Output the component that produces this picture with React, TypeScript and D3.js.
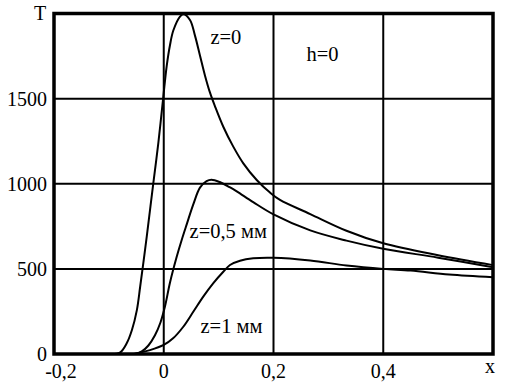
import React, { useEffect, useRef } from "react";
import * as d3 from "d3";

// x coordinate, T values
const z0X = [-0.098, -0.08, -0.0675, -0.058, -0.049, -0.043, -0.037, -0.031, -0.019, -0.0099, -0.0008, 0.0053, 0.0114, 0.0174, 0.0296, 0.0356, 0.0478, 0.0569, 0.0661, 0.0752, 0.0843, 0.0934, 0.1085, 0.1267, 0.145, 0.1694, 0.1936, 0.2118, 0.267, 0.333, 0.4, 0.5, 0.6];
const z0T = [0, 8, 63, 141, 258, 395, 540, 690, 1003, 1238, 1511, 1690, 1815, 1900, 1982, 1995, 1962, 1870, 1752, 1635, 1535, 1455, 1335, 1218, 1120, 1022, 948, 905, 822, 724, 650, 580, 522];

const z05X = [-0.052, -0.04, -0.028, -0.016, -0.006, 0.0023, 0.0114, 0.0236, 0.0327, 0.042, 0.054, 0.066, 0.078, 0.087, 0.102, 0.121, 0.133, 0.163, 0.2, 0.267, 0.333, 0.4, 0.5, 0.6];
const z05T = [0, 15, 50, 110, 185, 280, 420, 571, 670, 763, 880, 977, 1016, 1024, 1010, 978, 955, 892, 820, 726, 666, 618, 566, 510];

const z1X = [-0.055, -0.025, 0, 0.017, 0.0356, 0.0538, 0.072, 0.09, 0.1085, 0.1207, 0.139, 0.163, 0.2, 0.267, 0.333, 0.4, 0.45, 0.52, 0.6];
const z1T = [0, 23, 53, 92, 160, 248, 337, 415, 483, 523, 548, 562, 565, 549, 520, 500, 490, 467, 451];

const xTicks = [-0.2, 0, 0.2, 0.4];
const xTickLabels = ["-0,2", "0", "0,2", "0,4"];
const yTicks = [0, 500, 1000, 1500];
const yTickLabels = ["0", "500", "1000", "1500"];

const curveLabels = [
  { text: "z=0", x: 0.085, T: 1820 },
  { text: "h=0", x: 0.26, T: 1720 },
  { text: "z=0,5 мм", x: 0.047, T: 680 },
  { text: "z=1 мм", x: 0.067, T: 122 },
];

const App = () => {
  const svgRef = useRef<SVGSVGElement>(null);

  useEffect(() => {
    const width = 505;
    const height = 388;
    const margin = { top: 13.5, right: 12, bottom: 34, left: 54 };

    const svg = d3.select(svgRef.current);
    svg.selectAll("*").remove();

    const x = d3.scaleLinear().domain([-0.2, 0.6]).range([margin.left, width - margin.right]);
    const y = d3.scaleLinear().domain([0, 2000]).range([height - margin.bottom, margin.top]);

    const font = "Liberation Serif, Times New Roman, DejaVu Serif, serif";

    // grid
    svg
      .append("g")
      .selectAll("line")
      .data(xTicks.filter((d) => d > -0.2))
      .enter()
      .append("line")
      .attr("x1", (d) => x(d))
      .attr("x2", (d) => x(d))
      .attr("y1", y(0))
      .attr("y2", y(2000))
      .attr("stroke", "#000")
      .attr("stroke-width", 2);

    svg
      .append("g")
      .selectAll("line")
      .data(yTicks.filter((d) => d > 0))
      .enter()
      .append("line")
      .attr("x1", x(-0.2))
      .attr("x2", x(0.6))
      .attr("y1", (d) => y(d))
      .attr("y2", (d) => y(d))
      .attr("stroke", "#000")
      .attr("stroke-width", 2);

    // curves
    const line = d3
      .line<[number, number]>()
      .x((d) => x(d[0]))
      .y((d) => y(d[1]))
      .curve(d3.curveCatmullRom.alpha(0.5));

    const series = [
      z0X.map((v, i) => [v, z0T[i]] as [number, number]),
      z05X.map((v, i) => [v, z05T[i]] as [number, number]),
      z1X.map((v, i) => [v, z1T[i]] as [number, number]),
    ];

    svg
      .append("g")
      .selectAll("path")
      .data(series)
      .enter()
      .append("path")
      .attr("d", (d) => line(d))
      .attr("fill", "none")
      .attr("stroke", "#000")
      .attr("stroke-width", 2);

    // frame
    svg
      .append("rect")
      .attr("x", x(-0.2))
      .attr("y", y(2000))
      .attr("width", x(0.6) - x(-0.2))
      .attr("height", y(0) - y(2000))
      .attr("fill", "none")
      .attr("stroke", "#000")
      .attr("stroke-width", 3.5);

    const labels = svg.append("g").attr("font-family", font).attr("font-size", 20);

    // tick labels
    labels
      .append("g")
      .selectAll("text")
      .data(xTicks)
      .enter()
      .append("text")
      .attr("x", (d, i) => x(d) + (i === 0 ? 7 : 0))
      .attr("y", 378)
      .attr("text-anchor", "middle")
      .text((d, i) => xTickLabels[i]);

    labels
      .append("g")
      .selectAll("text")
      .data(yTicks)
      .enter()
      .append("text")
      .attr("x", 47)
      .attr("y", (d) => y(d) + 7)
      .attr("text-anchor", "end")
      .text((d, i) => yTickLabels[i]);

    labels.append("text").attr("x", 34).attr("y", 20).text("T");
    labels.append("text").attr("x", 485).attr("y", 373).text("x");

    // curve annotations
    labels
      .append("g")
      .selectAll("text")
      .data(curveLabels)
      .enter()
      .append("text")
      .attr("x", (d) => x(d.x))
      .attr("y", (d) => y(d.T))
      .attr("font-size", 20.5)
      .text((d) => d.text);
  }, []);

  return (
    <svg
      ref={svgRef}
      width={505}
      height={388}
      style={{ position: "absolute", left: 0, top: 0, background: "#fff" }}
    />
  );
};

export default App;
